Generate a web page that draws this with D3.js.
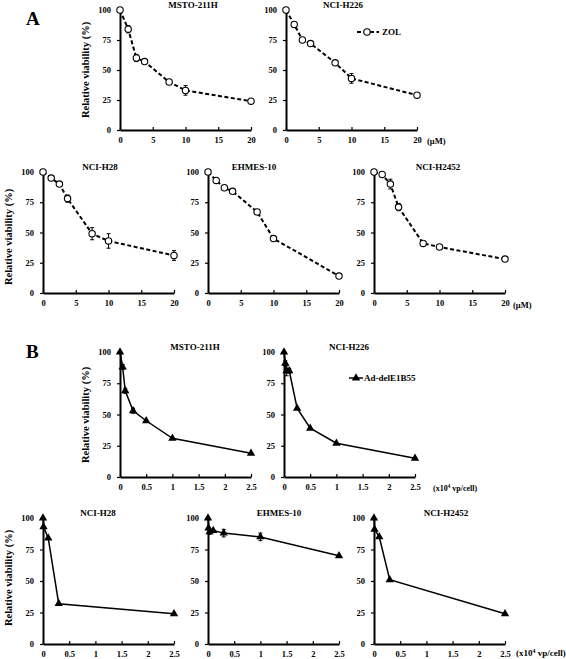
<!DOCTYPE html>
<html><head><meta charset="utf-8">
<script src="https://cdn.jsdelivr.net/npm/d3@7"></script>
<style>
body{margin:0;background:#fff;}
svg text{font-family:"Liberation Serif","Times New Roman",serif;font-weight:bold;fill:#000;}
</style></head>
<body><svg id="c" width="566" height="659"></svg>
<script>
// ---- data ----
const yTicks = [0, 25, 50, 75, 100];
const zolTicks = [0, 5, 10, 15, 20];
const adTicks = [0, 0.5, 1, 1.5, 2, 2.5];

const zolDose = [0, 1.25, 2.5, 3.75, 7.5, 10, 20];
const zolMSTO = [100, 84, 60, 57, 40, 33, 24];
const zolMSTOErr = [0, 3, 3, 1, 1, 4, 1];
const zolH226 = [100, 88, 75, 72, 56, 43, 29];
const zolH226Err = [0, 2, 1, 1, 1, 4, 1];
const zolH28 = [100, 95, 90, 78, 49, 43, 31];
const zolH28Err = [0, 1, 2, 3, 5, 6, 4];
const zolEHMES = [100, 93, 87, 84, 67, 45, 14];
const zolEHMESErr = [0, 1, 1, 1, 2, 2, 1];
const zolH2452 = [100, 98, 90, 71, 41, 38, 28];
const zolH2452Err = [0, 1, 4, 3, 1, 1, 1];

const adDoseMSTO = [0, 0.05, 0.1, 0.25, 0.5, 1, 2.5];
const adMSTO = [100, 88, 69, 53, 45, 31, 19];
const adMSTOErr = [0, 2, 2, 2, 1, 1, 1];
const adDoseH226 = [0, 0.025, 0.05, 0.1, 0.25, 0.5, 1, 2.5];
const adH226 = [100, 91, 85, 85, 55, 39, 27, 15];
const adH226Err = [0, 2, 4, 2, 1, 1, 1, 1];
const adDoseH28 = [0, 0.01, 0.1, 0.3, 2.5];
const adH28 = [100, 93, 84, 32, 24];
const adH28Err = [0, 1, 1, 1, 1];
const adDoseEHMES = [0, 0.01, 0.03, 0.1, 0.3, 1, 2.5];
const adEHMES = [100, 92, 89, 90, 88, 85, 70];
const adEHMESErr = [0, 1, 2, 1, 3, 3, 1];
const adDoseH2452 = [0, 0.01, 0.1, 0.3, 2.5];
const adH2452 = [100, 91, 85, 51, 24];
const adH2452Err = [0, 1, 1, 1, 1];

// ---- layout ----
const svg = d3.select("#c");
const W = 131;
const panels = [
  {title:"MSTO-211H", x0:120, y100:10, y0:130, xd:[0,20], ticks:zolTicks, dose:zolDose, v:zolMSTO, e:zolMSTOErr, type:"zol", tx:193},
  {title:"NCI-H226", x0:286, y100:10, y0:130, xd:[0,20], ticks:zolTicks, dose:zolDose, v:zolH226, e:zolH226Err, type:"zol", tx:343},
  {title:"NCI-H28", x0:43, y100:172, y0:293, xd:[0,20], ticks:zolTicks, dose:zolDose, v:zolH28, e:zolH28Err, type:"zol", tx:100},
  {title:"EHMES-10", x0:208, y100:172, y0:293, xd:[0,20], ticks:zolTicks, dose:zolDose, v:zolEHMES, e:zolEHMESErr, type:"zol", tx:254},
  {title:"NCI-H2452", x0:374, y100:172, y0:293, xd:[0,20], ticks:zolTicks, dose:zolDose, v:zolH2452, e:zolH2452Err, type:"zol", tx:438},
  {title:"MSTO-211H", x0:120, y100:352, y0:477, xd:[0,2.5], ticks:adTicks, dose:adDoseMSTO, v:adMSTO, e:adMSTOErr, type:"ad", tx:195},
  {title:"NCI-H226", x0:284, y100:352, y0:477, xd:[0,2.5], ticks:adTicks, dose:adDoseH226, v:adH226, e:adH226Err, type:"ad", tx:349},
  {title:"NCI-H28", x0:43, y100:518, y0:644, xd:[0,2.5], ticks:adTicks, dose:adDoseH28, v:adH28, e:adH28Err, type:"ad", tx:98},
  {title:"EHMES-10", x0:208, y100:518, y0:644, xd:[0,2.5], ticks:adTicks, dose:adDoseEHMES, v:adEHMES, e:adEHMESErr, type:"ad", tx:279},
  {title:"NCI-H2452", x0:374, y100:518, y0:644, xd:[0,2.5], ticks:adTicks, dose:adDoseH2452, v:adH2452, e:adH2452Err, type:"ad", tx:446}
];

const tri = d3.symbol().type(d3.symbolTriangle).size(30);

panels.forEach(p => {
  const x = d3.scaleLinear().domain(p.xd).range([p.x0, p.x0 + W]);
  const y = d3.scaleLinear().domain([0, 100]).range([p.y0, p.y100]);
  const g = svg.append("g");

  const xa = g.append("g").attr("transform", `translate(0,${p.y0})`)
    .call(d3.axisBottom(x).tickValues(p.ticks).tickFormat(d => String(d)).tickSize(-3).tickSizeOuter(0).tickPadding(7));
  const ya = g.append("g").attr("transform", `translate(${p.x0},0)`)
    .call(d3.axisLeft(y).tickValues(yTicks).tickSize(3).tickSizeOuter(0).tickPadding(6));
  [xa, ya].forEach(a => {
    a.select(".domain").attr("stroke", "#000").attr("stroke-width", 2);
    a.selectAll(".tick line").attr("stroke", "#000").attr("stroke-width", 1.2);
    a.selectAll("text").attr("font-size", 8.5).attr("font-family", null);
  });

  g.append("text").attr("x", p.tx).attr("y", p.y100 - 2).attr("text-anchor", "middle")
    .attr("font-size", 9).text(p.title);

  const pts = p.dose.map((d, i) => ({d, v: p.v[i], e: p.e[i]}));
  const line = d3.line().x(d => x(d.d)).y(d => y(d.v));
  g.append("path").datum(pts).attr("d", line).attr("fill", "none").attr("stroke", "#000")
    .attr("stroke-width", p.type === "zol" ? 2 : 1.5)
    .attr("stroke-dasharray", p.type === "zol" ? "4,2.5" : null);

  // error bars
  const eb = g.selectAll(".eb").data(pts.filter(d => d.e > 1.5)).enter().append("g");
  eb.append("line").attr("x1", d => x(d.d)).attr("x2", d => x(d.d))
    .attr("y1", d => y(d.v - d.e)).attr("y2", d => y(d.v + d.e)).attr("stroke", "#000").attr("stroke-width", 1);
  [-1, 1].forEach(s => {
    eb.append("line").attr("x1", d => x(d.d) - 2).attr("x2", d => x(d.d) + 2)
      .attr("y1", d => y(d.v + s * d.e)).attr("y2", d => y(d.v + s * d.e)).attr("stroke", "#000").attr("stroke-width", 1);
  });

  if (p.type === "zol") {
    g.selectAll(".m").data(pts).enter().append("circle")
      .attr("cx", d => x(d.d)).attr("cy", d => y(d.v)).attr("r", 3.2)
      .attr("fill", "#fff").attr("stroke", "#000").attr("stroke-width", 1.1);
  } else {
    g.selectAll(".m").data(pts).enter().append("path").attr("d", tri)
      .attr("transform", d => `translate(${x(d.d)},${y(d.v)})`).attr("fill", "#000");
  }
});

// y axis labels
const ylab = [[85, 70], [8, 237], [85, 415], [8, 578]];
ylab.forEach(([cx, cy]) => {
  svg.append("text").attr("transform", `translate(${cx + 4},${cy}) rotate(-90)`)
    .attr("text-anchor", "middle").attr("font-size", 10.5).text("Relative viability (%)");
});

// panel letters
svg.append("text").attr("x", 26).attr("y", 25).attr("font-size", 19).text("A");
svg.append("text").attr("x", 26).attr("y", 358).attr("font-size", 19).text("B");

// unit labels
svg.append("text").attr("x", 427).attr("y", 144).attr("font-size", 8.5).text("(μM)");
svg.append("text").attr("x", 513).attr("y", 308).attr("font-size", 8.5).text("(μM)");
function unitAd(xp, yp, fs) {
  const t = svg.append("text").attr("x", xp).attr("y", yp).attr("font-size", fs);
  t.append("tspan").text("(x10");
  t.append("tspan").attr("dy", -3).attr("font-size", fs * 0.65).text("4");
  t.append("tspan").attr("dy", 3).text(" vp/cell)");
}
unitAd(433, 491, 8);
unitAd(516, 656, 9);

// legends
const lgA = svg.append("g");
lgA.append("line").attr("x1", 357).attr("x2", 379).attr("y1", 32).attr("y2", 32)
  .attr("stroke", "#000").attr("stroke-width", 2).attr("stroke-dasharray", "4,2.5");
lgA.append("circle").attr("cx", 367).attr("cy", 32).attr("r", 3.2).attr("fill", "#fff").attr("stroke", "#000").attr("stroke-width", 1.1);
lgA.append("text").attr("x", 382).attr("y", 35).attr("font-size", 9).text("ZOL");

const lgB = svg.append("g");
lgB.append("line").attr("x1", 349).attr("x2", 363).attr("y1", 378).attr("y2", 378)
  .attr("stroke", "#000").attr("stroke-width", 1.5);
lgB.append("path").attr("d", tri).attr("transform", "translate(356,378)").attr("fill", "#000");
lgB.append("text").attr("x", 364).attr("y", 381).attr("font-size", 9).text("Ad-delE1B55");
</script></body></html>
